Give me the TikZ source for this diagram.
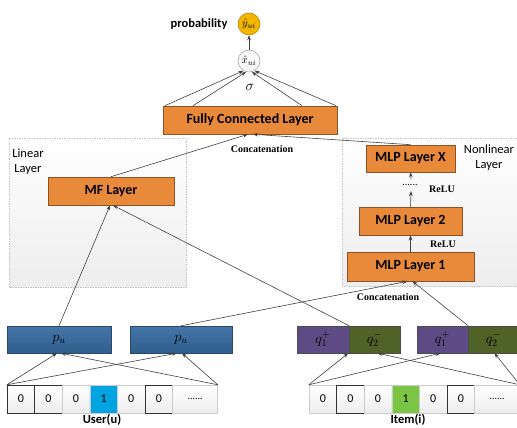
\documentclass[tikz,border=0pt]{standalone}
\usepackage{fontspec}
\setmainfont{Carlito}
\newfontfamily\tagfont{Liberation Serif}
\usetikzlibrary{arrows.meta}

\definecolor{layerfill}{HTML}{E98A3B}
\definecolor{layerdraw}{HTML}{8A5428}
\definecolor{embtop}{HTML}{4476A8}
\definecolor{embbot}{HTML}{2F5E8C}
\definecolor{embdraw}{HTML}{2A4868}
\definecolor{posfill}{HTML}{5E4A84}
\definecolor{negfill}{HTML}{4F6228}
\definecolor{probfill}{HTML}{F2B600}
\definecolor{probdraw}{HTML}{B88A00}
\definecolor{userone}{HTML}{00A4E0}
\definecolor{itemone}{HTML}{7CC443}
\definecolor{wirecol}{HTML}{404040}

\tikzset{
  layer/.style={draw=layerdraw, fill=layerfill, line width=0.6pt, inner sep=0pt,
    font=\bfseries\fontsize{14}{16}\selectfont},
  emb/.style={draw=embdraw, top color=embtop, bottom color=embbot, minimum height=27pt,
    inner sep=0pt, font=\fontsize{14}{16}\selectfont},
  posbox/.style={emb, draw=black!70, top color=posfill, bottom color=posfill},
  negbox/.style={emb, draw=black!70, top color=negfill, bottom color=negfill},
  cell/.style={draw=gray!40, top color=white, bottom color=gray!14, minimum width=27.6pt,
    minimum height=28pt, inner sep=0pt, font=\fontsize{12}{14}\selectfont},
  hard/.style={draw=gray!40!black},
  uone/.style={top color=userone, bottom color=userone},
  ione/.style={top color=itemone, bottom color=itemone},
  area/.style={draw=gray!45, dash pattern=on 1.5pt off 1pt, top color=white, bottom color=gray!14},
  wire/.style={draw=wirecol, line width=0.6pt, -{Stealth[length=5pt,width=3.6pt]}},
  tag/.style={font=\tagfont\bfseries\fontsize{10}{12}\selectfont},
  side/.style={align=center, font=\fontsize{12.5}{15}\selectfont},
  unit/.style={circle, minimum size=22pt, inner sep=0pt, line width=0.6pt},
}

\begin{document}
\begin{tikzpicture}[x=1pt,y=-1pt]
  \useasboundingbox (0,0) rectangle (517,428);
  \clip (0,0) rectangle (517,428);

  % output part
  \node[font=\bfseries\fontsize{12.5}{15}\selectfont] (problabel) at (199,24) {probability};
  \node[unit, draw=probdraw, fill=probfill, font=\fontsize{11}{12}\selectfont] (yhat) at (249,24) {$\hat{y}_{ui}$};
  \node[unit, draw=gray!70, inner color=white, outer color=gray!8, font=\fontsize{11}{12}\selectfont] (xhat) at (249,61) {$\hat{x}_{ui}$};
  \node[font=\fontsize{15}{16}\selectfont] (sig) at (250,87) {$\sigma$};
  \node[layer, minimum width=174pt, minimum height=28pt] (fc) at (250,120) {Fully Connected Layer};

  % the two dashed areas
  \draw[area] (9,138) rectangle (186,287); % linear part
  \draw[area] (342,138) rectangle (530,286); % nonlinear part
  \node[side] (lintag) at (28,162) {Linear\\Layer};
  \node[side] (nonlintag) at (489,158) {Nonlinear\\Layer};

  % layers
  \node[layer, minimum width=126pt, minimum height=28pt] (mf) at (111,191) {MF Layer};
  \node[layer, minimum width=89pt, minimum height=27pt] (mlpx) at (410.5,158.5) {MLP Layer X};
  \node[layer, minimum width=103pt, minimum height=28pt] (mlp2) at (410.5,221) {MLP Layer 2};
  \node[layer, minimum width=127pt, minimum height=29pt] (mlp1) at (410.5,266.5) {MLP Layer 1};
  \node[inner sep=0pt, minimum height=12pt, font=\fontsize{10}{12}\selectfont] (dots) at (410,185) {......};
  \node[tag] (relux) at (442,189) {ReLU};
  \node[tag] (relu2) at (443,244) {ReLU};
  \node[tag] (concattop) at (262,149) {Concatenation};
  \node[tag] (concatbot) at (388,297) {Concatenation};

  % embeddings
  \node[emb, minimum width=104pt] (pu1) at (59,339.5) {$p_u$};
  \node[emb, minimum width=102pt] (pu2) at (181,339.5) {$p_u$};
  \node[posbox, minimum width=52pt] (qa1) at (323,339.5) {$q_1^{+}$};
  \node[negbox, minimum width=51pt] (qb1) at (374.5,339.5) {$q_2^{-}$};
  \node[posbox, minimum width=51pt] (qa2) at (442.5,339.5) {$q_1^{+}$};
  \node[negbox, minimum width=51pt] (qb2) at (493.5,339.5) {$q_2^{-}$};

  % one-hot inputs
  \foreach \v/\s [count=\i] in {0/hard,0/hard,0/,1/uone,0/,0/hard}
    \node[cell,\s] (u\i) at (20.8+27.6*\i-27.6,399) {\v};
  \node[cell, minimum width=45pt, font=\fontsize{10}{12}\selectfont] (u7) at (195.1,399) {......};
  \foreach \v/\s [count=\i] in {0/,0/hard,0/,1/ione,0/,0/hard}
    \node[cell,\s] (i\i) at (322.8+27.6*\i-27.6,399) {\v};
  \node[cell, minimum width=45pt, font=\fontsize{10}{12}\selectfont] (i7) at (497.1,399) {......};
  \node[font=\bfseries\fontsize{12.5}{15}\selectfont] (usertag) at (102,419.5) {User(u)};
  \node[font=\bfseries\fontsize{12.5}{15}\selectfont] (itemtag) at (408,419.5) {Item(i)};

  % inputs to embeddings
  \draw[wire] (u1.north west) -- ([xshift=-2pt]pu1.south);
  \draw[wire] (u1.north west) -- ([xshift=-4pt]pu2.south);
  \draw[wire] (u7.north east) -- ([xshift=2pt]pu1.south);
  \draw[wire] (u7.north east) -- ([xshift=1pt]pu2.south);
  \draw[wire] (i1.north west) -- ([xshift=-1pt]qa1.south east);
  \draw[wire] (i1.north west) -- ([xshift=-2pt]qa2.south);
  \draw[wire] (i7.north east) -- ([xshift=3pt]qb1.south);
  \draw[wire] (i7.north east) -- ([xshift=1pt]qb2.south);

  % embeddings to layers
  \draw[wire] (pu1.north) -- ([xshift=-1pt]mf.south);
  \draw[wire] (qa1.north east) -- ([xshift=2pt]mf.south);
  \draw[wire] (pu2.north) -- ([xshift=-3pt]mlp1.south);
  \draw[wire] (qa2.north east) -- ([xshift=2pt]mlp1.south);
  \draw[wire] (mlp1.north) -- (mlp2.south);
  \draw[wire] (mlp2.north) -- ([xshift=1pt]dots.south);
  \draw[wire] ([xshift=1pt]dots.north) -- (mlpx.south);
  \draw[wire] (mf.north) -- ([xshift=-2pt]fc.south);
  \draw[wire] (mlpx.north) -- ([xshift=3pt]fc.south);

  % output
  \draw[wire] ([xshift=-85pt]fc.north) -- (xhat.240);
  \draw[wire] ([xshift=-57pt]fc.north) -- (xhat.255);
  \draw[wire] ([xshift=52pt]fc.north) -- (xhat.285);
  \draw[wire] ([xshift=86pt]fc.north) -- (xhat.300);
  \draw[wire] (xhat.north) -- (yhat.south);
\end{tikzpicture}
\end{document}
